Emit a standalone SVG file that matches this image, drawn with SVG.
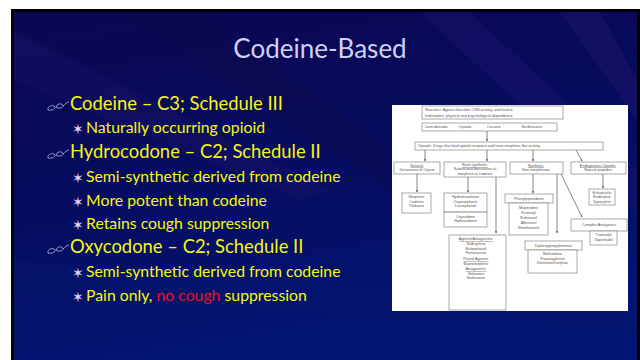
<svg xmlns="http://www.w3.org/2000/svg" width="640" height="360" viewBox="0 0 640 360">
<defs>
<linearGradient id="bg" x1="0" y1="0" x2="0.3" y2="1">
<stop offset="0" stop-color="#0c0752"/>
<stop offset="0.5" stop-color="#060c5e"/>
<stop offset="1" stop-color="#021472"/>
</linearGradient>
<marker id="ah" viewBox="0 0 6 6" refX="5" refY="3" markerWidth="3" markerHeight="3" orient="auto">
<path d="M0,0 L6,3 L0,6 z" fill="#444"/>
</marker>
<style>
.title{font-family:Lato,"Open Sans",sans-serif;font-size:26px;fill:#d0d0f4;}
.l1{font-family:Lato,"Open Sans",sans-serif;font-size:18.4px;fill:#f6f612;}
.l2{font-family:Lato,"Open Sans",sans-serif;font-size:15.8px;fill:#f6f612;}
.red{fill:#e8141c;}
.star{font-family:"DejaVu Sans",sans-serif;font-size:14px;fill:#d4d4ff;}
.glass{fill:none;stroke:#a8a8d8;stroke-width:0.9;}
.box{fill:#fff;stroke:#707070;stroke-width:0.6;}
.ln{fill:none;stroke:#555;stroke-width:0.7;}
.ct{font-family:"Liberation Sans",Arial,sans-serif;font-size:3.8px;fill:#555;}
.cc{text-anchor:middle;}
.u{text-decoration:underline;}
</style>
</defs>
<rect x="0" y="0" width="640" height="360" fill="#fff"/>
<rect x="11" y="9" width="629" height="351" fill="#000"/>
<rect x="14" y="12" width="623" height="348" fill="url(#bg)"/>
<g opacity="0.4">
<polygon points="14,30 14,80 300,200 330,190" fill="#1a1268"/>
<polygon points="120,12 200,12 460,200 420,210" fill="#0e0a4a"/>
<polygon points="420,12 470,12 637,170 637,215" fill="#1c1470"/>
<polygon points="560,12 600,12 637,80 637,120" fill="#24186e"/>
<polygon points="14,260 14,300 637,330 637,300" fill="#08166e"/>
</g>
<text class="title" x="320" y="58" text-anchor="middle">Codeine-Based</text>
<g id="bullets">
<g id="b1">
<path class="glass" d="M48,110 C47,106 53,104 55,107 C56,109 51,111 48,110 Z M56,107 C57,103 63,103 63,106 C63,108 58,109 56,107 M63,106 C65,104 67,102 69,102"/>
<text class="l1" x="70" y="110">Codeine – C3; Schedule III</text>
</g>
<g id="b1a"><text class="star" x="72" y="134">✶</text><text class="l2" x="86" y="133">Naturally occurring opioid</text></g>
<g id="b2">
<path class="glass" d="M48,158 C47,154 53,152 55,155 C56,157 51,159 48,158 Z M56,155 C57,151 63,151 63,154 C63,156 58,157 56,155 M63,154 C65,152 67,150 69,150"/>
<text class="l1" x="70" y="158">Hydrocodone – C2; Schedule II</text>
</g>
<g id="b2a"><text class="star" x="72" y="183">✶</text><text class="l2" x="86" y="182">Semi-synthetic derived from codeine</text></g>
<g id="b2b"><text class="star" x="72" y="207">✶</text><text class="l2" x="86" y="206">More potent than codeine</text></g>
<g id="b2c"><text class="star" x="72" y="230">✶</text><text class="l2" x="86" y="229">Retains cough suppression</text></g>
<g id="b3">
<path class="glass" d="M48,253 C47,249 53,247 55,250 C56,252 51,254 48,253 Z M56,250 C57,246 63,246 63,249 C63,251 58,252 56,250 M63,249 C65,247 67,245 69,245"/>
<text class="l1" x="70" y="253">Oxycodone – C2; Schedule II</text>
</g>
<g id="b3a"><text class="star" x="72" y="278">✶</text><text class="l2" x="86" y="277">Semi-synthetic derived from codeine</text></g>
<g id="b3b"><text class="star" x="72" y="302">✶</text><text class="l2" x="86" y="301">Pain only, <tspan class="red">no cough</tspan> suppression</text></g>
</g>
<g id="chart">
<rect x="392" y="105" width="236" height="206" fill="#fff"/>
<g id="connectors">
<line class="ln" x1="487" y1="131" x2="487" y2="141" marker-end="url(#ah)"/>
<line class="ln" x1="425" y1="150" x2="425" y2="161" marker-end="url(#ah)"/>
<line class="ln" x1="487" y1="150" x2="487" y2="161" marker-end="url(#ah)"/>
<line class="ln" x1="533" y1="150" x2="533" y2="161" marker-end="url(#ah)"/>
<line class="ln" x1="576" y1="150" x2="582" y2="161" marker-end="url(#ah)"/>
<line class="ln" x1="417" y1="174" x2="417" y2="192" marker-end="url(#ah)"/>
<line class="ln" x1="468" y1="177" x2="468" y2="192" marker-end="url(#ah)"/>
<line class="ln" x1="496" y1="177" x2="496" y2="233" marker-end="url(#ah)"/>
<line class="ln" x1="533" y1="174" x2="533" y2="193" marker-end="url(#ah)"/>
<line class="ln" x1="557" y1="174" x2="557" y2="233" marker-end="url(#ah)"/>
<line class="ln" x1="561" y1="174" x2="582" y2="217" marker-end="url(#ah)"/>
<line class="ln" x1="603" y1="174" x2="603" y2="188" marker-end="url(#ah)"/>
</g>
<g id="n-narcotics">
<rect class="box" x="422" y="106" width="141" height="13"/>
<text class="ct" x="425" y="111">Narcotics:   Agents that alter CNS activity, and lead to</text>
<text class="ct" x="425" y="116.5">habituation, physical and psychological dependence</text>
</g>
<g id="n-classes">
<rect class="box" x="422" y="123" width="135" height="8"/>
<text class="ct cc" x="436" y="128.3">Cannabinoids</text>
<text class="ct cc" x="465" y="128.3">Opioids</text>
<text class="ct cc" x="494" y="128.3">Cocaine</text>
<text class="ct cc" x="532" y="128.3">Barbiturates</text>
</g>
<g id="n-opioids">
<rect class="box" x="415" y="142" width="188" height="8"/>
<text class="ct" x="418" y="147.3">Opioids: Drugs that bind opioid receptors and have morphine-like activity.</text>
</g>
<g id="n-natural">
<rect class="box" x="394" y="162" width="46" height="12"/>
<text class="ct cc u" x="417" y="166.5">Natural:</text>
<text class="ct cc" x="417" y="171">Derivatives of Opium</text>
</g>
<g id="n-semi">
<rect class="box" x="444" y="162" width="62" height="15"/>
<text class="ct cc u" x="475" y="166">Semi-synthetic:</text>
<text class="ct cc" x="475" y="170">Substituted derivatives of</text>
<text class="ct cc" x="475" y="174.5">morphine or codeine</text>
</g>
<g id="n-synthetic">
<rect class="box" x="510" y="162" width="53" height="12"/>
<text class="ct cc u" x="536" y="166.5">Synthetic:</text>
<text class="ct cc" x="536" y="171">Non-morphinans</text>
</g>
<g id="n-endogenous">
<rect class="box" x="571" y="162" width="55" height="12"/>
<text class="ct cc u" x="598" y="166.5">Endogenous Opioids:</text>
<text class="ct cc" x="598" y="171">Natural peptides</text>
</g>
<g id="n-morphine">
<rect class="box" x="402" y="193" width="29" height="20"/>
<text class="ct cc" x="416.5" y="198">Morphine</text>
<text class="ct cc" x="416.5" y="202.5">Codeine</text>
<text class="ct cc" x="416.5" y="207">Thebaine</text>
</g>
<g id="n-semilist">
<rect class="box" x="444" y="193" width="43" height="34"/>
<line class="ln" x1="444" y1="212" x2="487" y2="212"/>
<text class="ct cc" x="465.5" y="198">Hydromorphone</text>
<text class="ct cc" x="465.5" y="202.5">Oxymorphone</text>
<text class="ct cc" x="465.5" y="207">Levorphanol</text>
<text class="ct cc" x="465.5" y="217.5">Oxycodone</text>
<text class="ct cc" x="465.5" y="222">Hydrocodone</text>
</g>
<g id="n-agonist">
<rect class="box" x="449" y="235" width="57" height="75"/>
<text class="ct cc u" x="476" y="240">Agonist/Antagonists:</text>
<text class="ct cc" x="476" y="245">Nalbuphine</text>
<text class="ct cc" x="476" y="249.5">Butorphanol</text>
<text class="ct cc" x="476" y="254">Pentazocine</text>
<text class="ct cc u" x="476" y="260">Partial Agonist:</text>
<text class="ct cc" x="476" y="264.5">Buprenorphine</text>
<text class="ct cc u" x="476" y="270">Antagonists:</text>
<text class="ct cc" x="476" y="274.5">Naloxone</text>
<text class="ct cc" x="476" y="279">Naltrexone</text>
</g>
<g id="n-phenyl">
<rect class="box" x="505" y="194" width="48" height="9"/>
<text class="ct cc" x="529" y="199.5">Phenylpiperidines</text>
</g>
<g id="n-phenyllist">
<rect class="box" x="509" y="203" width="39" height="32"/>
<text class="ct cc" x="528.5" y="208.5">Meperidine</text>
<text class="ct cc" x="528.5" y="213.5">Fentanyl</text>
<text class="ct cc" x="528.5" y="218.5">Sufentanil</text>
<text class="ct cc" x="528.5" y="223.5">Alfentanil</text>
<text class="ct cc" x="528.5" y="228.5">Remifentanil</text>
</g>
<g id="n-diphenyl">
<rect class="box" x="525" y="241" width="57" height="9"/>
<text class="ct cc" x="553.5" y="246.5">Diphenylpropylamines</text>
</g>
<g id="n-diphenyllist">
<rect class="box" x="528" y="250" width="49" height="23"/>
<text class="ct cc" x="552.5" y="255">Methadone</text>
<text class="ct cc" x="552.5" y="259.5">Propoxyphene</text>
<text class="ct cc" x="552.5" y="264">Dextromethorphan</text>
</g>
<g id="n-complex">
<rect class="box" x="571" y="219" width="56" height="12"/>
<text class="ct cc" x="599" y="226">Complex Analgesics</text>
</g>
<g id="n-complexlist">
<rect class="box" x="590" y="231" width="27" height="14"/>
<text class="ct cc" x="603.5" y="236">Tramadol</text>
<text class="ct cc" x="603.5" y="240.5">Tapentadol</text>
</g>
<g id="n-endolist">
<rect class="box" x="589" y="189" width="26" height="16"/>
<text class="ct cc" x="602" y="193.5">Enkephalin</text>
<text class="ct cc" x="602" y="198">Endorphin</text>
<text class="ct cc" x="602" y="202.5">Dynorphin</text>
</g>
</g>
</svg>
